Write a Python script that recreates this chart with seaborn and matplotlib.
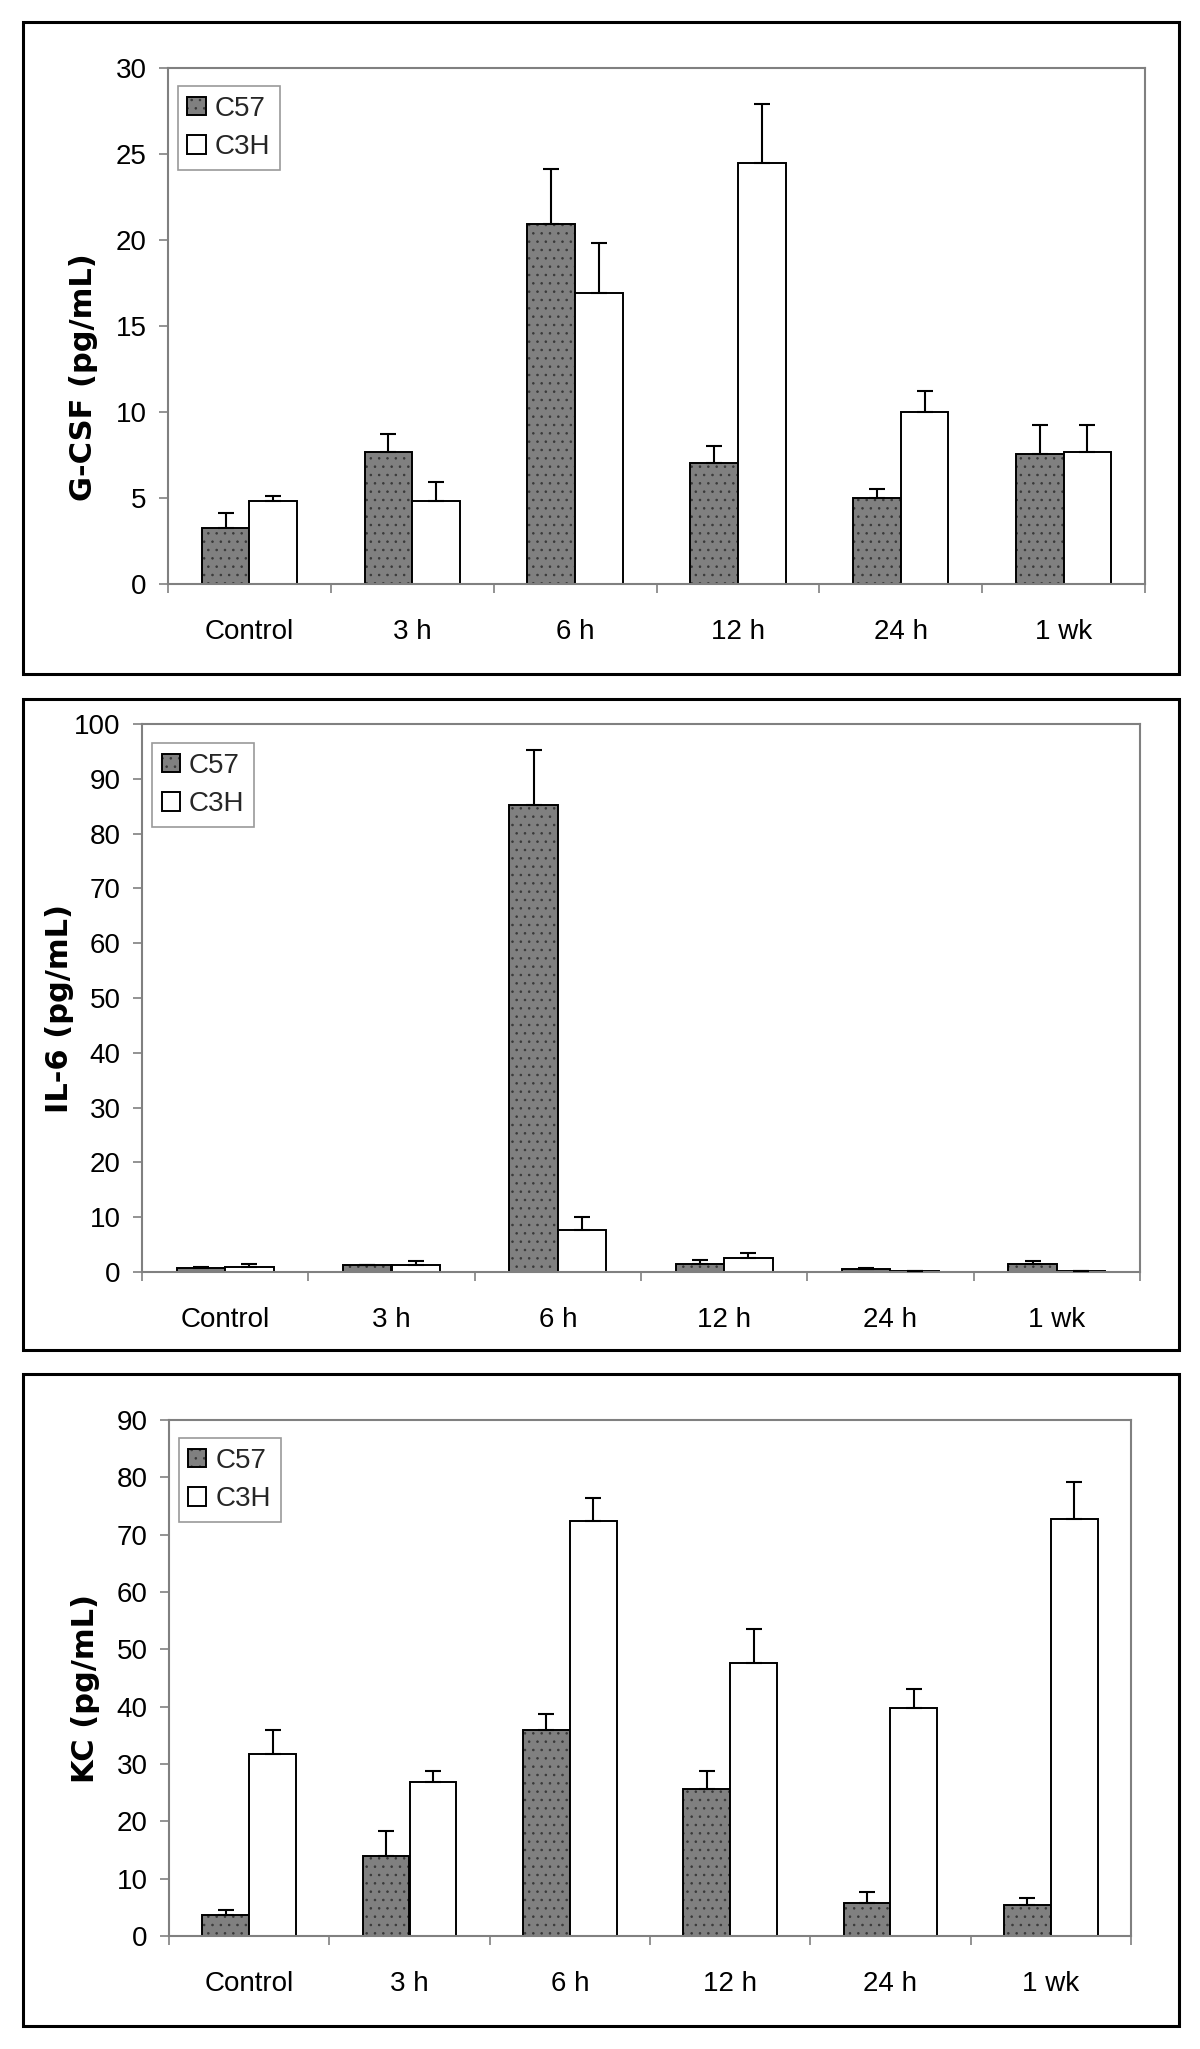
'''
Cytokine levels (G-CSF, IL-6, KC) after exposure, C57 vs C3H mice
'''

#%%
import numpy as np
import pandas as pd
import matplotlib
matplotlib.use("Agg")
import matplotlib.pyplot as plt
import matplotlib.patches as mpatches
from matplotlib.colors import to_rgba
import seaborn as sns

#%%
times = ["Control", "3 h", "6 h", "12 h", "24 h", "1 wk"]
strains = ["C57", "C3H"]

gcsf_c57 = [3.25, 7.65, 20.95, 7.05, 5.0, 7.55]
gcsf_c57_err = [0.9, 1.05, 3.15, 1.0, 0.5, 1.7]
gcsf_c3h = [4.8, 4.8, 16.9, 24.5, 10.0, 7.65]
gcsf_c3h_err = [0.3, 1.15, 2.95, 3.4, 1.2, 1.6]

il6_c57 = [0.7, 1.25, 85.2, 1.55, 0.6, 1.55]
il6_c57_err = [0.3, 0.05, 10.0, 0.7, 0.1, 0.45]
il6_c3h = [1.0, 1.25, 7.7, 2.6, 0.25, 0.25]
il6_c3h_err = [0.55, 0.7, 2.3, 0.9, 0.0, 0.0]

kc_c57 = [3.6, 14.0, 36.0, 25.7, 5.7, 5.4]
kc_c57_err = [0.9, 4.3, 2.7, 3.0, 2.0, 1.3]
kc_c3h = [31.8, 26.8, 72.4, 47.7, 39.7, 72.7]
kc_c3h_err = [4.2, 1.9, 4.0, 5.8, 3.4, 6.4]

panels = [
    ("G-CSF (pg/mL)", gcsf_c57, gcsf_c57_err, gcsf_c3h, gcsf_c3h_err, 30, 5),
    ("IL-6 (pg/mL)", il6_c57, il6_c57_err, il6_c3h, il6_c3h_err, 100, 10),
    ("KC (pg/mL)", kc_c57, kc_c57_err, kc_c3h, kc_c3h_err, 90, 10),
]

#%%
sns.set_theme(style="white")
plt.rcParams["font.family"] = ["Liberation Sans", "DejaVu Sans"]
plt.rcParams["hatch.linewidth"] = 0.6

W, H = 1200, 2049
fig = plt.figure(figsize=(W / 100, H / 100), dpi=100)

axes_px = [(168, 68, 1145, 584), (142, 724, 1140, 1272), (169, 1420, 1131, 1936)]
frames_px = [(23, 22, 1179, 674), (23, 699, 1179, 1350), (23, 1374, 1179, 2026)]
label_pos = [(-0.072, 0.40), (-0.068, 0.48), (-0.072, 0.48)]

grey = "#808080"
dot = to_rgba("#383838")

for (l, t, r, b) in frames_px:
    fig.add_artist(mpatches.Rectangle((l / W, 1 - b / H), (r - l) / W, (b - t) / H,
                                      transform=fig.transFigure, fill=False,
                                      edgecolor="black", linewidth=2.2))

for i, (ylab, c57, c57e, c3h, c3he, ymax, step) in enumerate(panels):
    l, t, r, b = axes_px[i]
    ax = fig.add_axes([l / W, 1 - b / H, (r - l) / W, (b - t) / H])

    df = pd.DataFrame({
        "time": times * 2,
        "strain": ["C57"] * 6 + ["C3H"] * 6,
        "value": c57 + c3h,
    })
    sns.barplot(data=df, x="time", y="value", hue="strain", hue_order=strains,
                palette={"C57": grey, "C3H": "white"}, width=0.585, gap=0,
                edgecolor="black", linewidth=1.4, errorbar=None,
                legend=False, ax=ax, zorder=2)

    for p in ax.containers[0]:
        p.set_hatch("..")
        p._hatch_color = dot

    # upper error bars only
    for cont, vals, errs in zip(ax.containers, [c57, c3h], [c57e, c3he]):
        xs = [p.get_x() + p.get_width() / 2 for p in cont]
        ax.errorbar(xs, vals, yerr=[np.zeros(len(errs)), errs], fmt="none",
                    ecolor="black", elinewidth=1.5, capsize=6, capthick=1.5,
                    zorder=3)

    ax.set_xlim(-0.5, 5.5)
    ax.set_ylim(0, ymax)
    ax.set_yticks(np.arange(0, ymax + step, step))
    ax.set_xticks(range(6))
    ax.set_xticklabels(times)
    ax.set_xticks(np.arange(-0.5, 6, 1), minor=True)
    ax.tick_params(axis="x", which="major", length=0, pad=25, labelsize=20,
                   labelcolor="black")
    ax.tick_params(axis="x", which="minor", direction="out", length=6.5,
                   width=1.2, color=grey, bottom=True)
    ax.tick_params(axis="y", direction="out", length=6.5, width=1.2, color=grey,
                   pad=9, labelsize=20, labelcolor="black", left=True)
    for s in ax.spines.values():
        s.set_color(grey)
        s.set_linewidth(1.5)

    ax.set_xlabel("")
    ax.set_ylabel(ylab, fontsize=22, fontweight="bold", family="DejaVu Sans",
                  color="black")
    ax.yaxis.set_label_coords(*label_pos[i])

    handles = [
        mpatches.Patch(facecolor=grey, edgecolor="black", linewidth=1.4,
                       hatch="..", label="C57"),
        mpatches.Patch(facecolor="white", edgecolor="black", linewidth=1.4,
                       label="C3H"),
    ]
    leg = ax.legend(handles=handles, loc="upper left", bbox_to_anchor=(0.01, 0.965),
                    borderaxespad=0, fontsize=20, frameon=True, fancybox=False,
                    handlelength=0.65, handleheight=0.65, handletextpad=0.32,
                    labelspacing=0.45, borderpad=0.35, edgecolor=grey)
    leg.get_frame().set_linewidth(1.2)
    leg.legend_handles[0]._hatch_color = dot

fig.savefig("out.png", dpi=100, facecolor="white")
